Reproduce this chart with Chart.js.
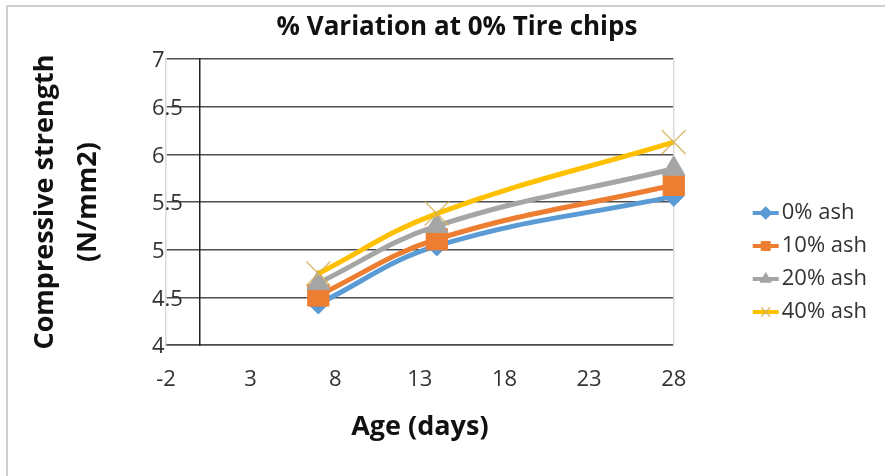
<!DOCTYPE html>
<html>
<head>
<meta charset="utf-8">
<script src="https://cdn.jsdelivr.net/npm/chart.js@4.4.1/dist/chart.umd.min.js"></script>
<style>
  html, body { margin: 0; padding: 0; background: #fff; }
  #wrap { position: relative; width: 885px; height: 476px; overflow: hidden; }
  #frame { position: absolute; left: 6px; top: 5px; width: 900px; height: 500px;
           border: 2px solid #d0d0d0; pointer-events: none; }
</style>
</head>
<body>
<div id="wrap">
  <canvas id="chart" width="885" height="476"></canvas>
  <div id="frame"></div>
</div>
<script>
// values
const ages = [7, 14, 28];
const ash0 = [4.43, 5.04, 5.56];
const ash10 = [4.52, 5.11, 5.68];
const ash20 = [4.65, 5.25, 5.85];
const ash40 = [4.75, 5.38, 6.13];
const seriesNames = ["0% ash", "10% ash", "20% ash", "40% ash"];
const xTicks = [-2, 3, 8, 13, 18, 23, 28];
const yTicks = [4, 4.5, 5, 5.5, 6, 6.5, 7];

const FONT = "'Open Sans', 'Noto Sans', sans-serif";
const GRID = "#4d4d4d";
const EDGE = "#d9d9d9";

function points(values) {
    return ages.map((age, i) => ({ x: age, y: values[i] }));
}

// short line segment behind each legend marker, like the Excel legend
const legendLines = {
    id: "legendLines",
    beforeDraw(chart) {
        const legend = chart.legend;
        if (!legend || !legend.legendHitBoxes) return;
        const ctx = chart.ctx;
        legend.legendItems.forEach((item, i) => {
            const box = legend.legendHitBoxes[i];
            if (!box) return;
            const ds = chart.data.datasets[item.datasetIndex];
            const cy = box.top + box.height / 2;
            ctx.save();
            ctx.strokeStyle = ds.borderColor;
            ctx.lineWidth = 4;
            ctx.beginPath();
            ctx.moveTo(box.left - 8, cy);
            ctx.lineTo(box.left + 18, cy);
            ctx.stroke();
            ctx.restore();
        });
    },
};

const common = {
    borderWidth: 5,
    tension: 0.4,
    clip: false,
    yAxisID: "y",
};

new Chart(document.getElementById("chart"), {
    type: "line",
    data: {
        datasets: [
            {
                ...common,
                label: seriesNames[0],
                data: points(ash0),
                borderColor: "#5B9BD5",
                backgroundColor: "#5B9BD5",
                pointStyle: "rectRot",
                pointRadius: 10,
                pointBorderWidth: 1,
                order: 4,
            },
            {
                ...common,
                label: seriesNames[1],
                data: points(ash10),
                borderColor: "#ED7D31",
                backgroundColor: "#ED7D31",
                pointStyle: "rect",
                pointRadius: 15,
                pointBorderWidth: 1,
                order: 3,
            },
            {
                ...common,
                label: seriesNames[2],
                data: points(ash20),
                borderColor: "#A5A5A5",
                backgroundColor: "#A5A5A5",
                pointStyle: "triangle",
                pointRadius: 13,
                pointBorderWidth: 1,
                order: 2,
            },
            {
                ...common,
                label: seriesNames[3],
                data: points(ash40),
                borderColor: "#FFC000",
                backgroundColor: "#FFC000",
                pointStyle: "crossRot",
                pointRadius: 17,
                pointBorderColor: "rgba(214, 180, 90, 0.85)",
                pointBorderWidth: 1.5,
                order: 1,
            },
        ],
    },
    options: {
        responsive: false,
        animation: false,
        layout: {
            padding: { left: 37, right: 8, top: 0, bottom: 0 },
        },
        plugins: {
            title: {
                display: true,
                text: "% Variation at 0% Tire chips",
                color: "#111",
                font: { family: FONT, size: 26, weight: "bold", lineHeight: 1.2 },
                padding: { top: 12, bottom: 16 },
            },
            legend: {
                position: "right",
                align: "center",
                maxWidth: 400,
                title: {
                    display: true,
                    text: " ",
                    font: { size: 10, lineHeight: 1.2 },
                    padding: { top: 37, bottom: 0 },
                },
                labels: {
                    usePointStyle: true,
                    boxWidth: 10,
                    boxHeight: 9,
                    padding: 11,
                    color: "#333",
                    font: { family: FONT, size: 22 },
                    sort: (a, b) => a.datasetIndex - b.datasetIndex,
                },
            },
            tooltip: { enabled: false },
        },
        scales: {
            x: {
                type: "linear",
                position: "bottom",
                min: xTicks[0],
                max: xTicks[xTicks.length - 1],
                afterBuildTicks: (scale) => {
                    scale.ticks = xTicks.map((v) => ({ value: v }));
                },
                afterFit: (scale) => {
                    scale.height = 131;
                },
                grid: { display: false, drawTicks: false },
                border: { display: true, color: GRID, width: 1.5 },
                ticks: {
                    padding: 22,
                    color: "#333",
                    font: { family: FONT, size: 22 },
                    callback: (v) => String(v),
                },
                title: {
                    display: true,
                    text: "Age (days)",
                    color: "#111",
                    font: { family: FONT, size: 27, weight: "bold", lineHeight: 1.2 },
                    padding: { top: 0, bottom: 32 },
                },
            },
            y: {
                type: "linear",
                axis: "y",
                position: "left",
                weight: 0,
                min: yTicks[0],
                max: yTicks[yTicks.length - 1],
                afterBuildTicks: (scale) => {
                    scale.ticks = yTicks.map((v) => ({ value: v }));
                },
                afterFit: (scale) => {
                    scale.width = 0;
                },
                grid: { color: GRID, lineWidth: 1.5, drawTicks: false },
                border: { display: true, color: EDGE, width: 1.5 },
                ticks: {
                    mirror: true,
                    crossAlign: "near",
                    padding: -14,
                    labelOffset: 2,
                    color: "#333",
                    font: { family: FONT, size: 22 },
                    callback: (v) => String(v),
                },
            },
            // holds the two-line value axis title
            yTitle: {
                type: "linear",
                axis: "y",
                position: "left",
                weight: 1,
                afterFit: (scale) => {
                    scale.width = 129;
                },
                grid: { display: false },
                border: { display: false },
                ticks: { display: false },
                title: {
                    display: true,
                    text: ["Compressive strength", "(N/mm2)"],
                    color: "#111",
                    font: { family: FONT, size: 27, weight: "bold", lineHeight: 1.6 },
                    padding: { top: -13, bottom: 0 },
                },
            },
            // vertical axis line where the value axis crosses x = 0
            yZero: {
                type: "linear",
                axis: "y",
                position: { x: 0 },
                grid: { display: false },
                ticks: { display: false },
                border: { display: true, color: "#222", width: 1.5 },
            },
            // right edge of the plot area and gap before the legend
            yRight: {
                type: "linear",
                axis: "y",
                position: "right",
                weight: 0,
                afterFit: (scale) => {
                    scale.width = 76;
                },
                grid: { display: false },
                ticks: { display: false },
                border: { display: true, color: EDGE, width: 1.5 },
            },
        },
    },
    plugins: [legendLines],
});
</script>
</body>
</html>
